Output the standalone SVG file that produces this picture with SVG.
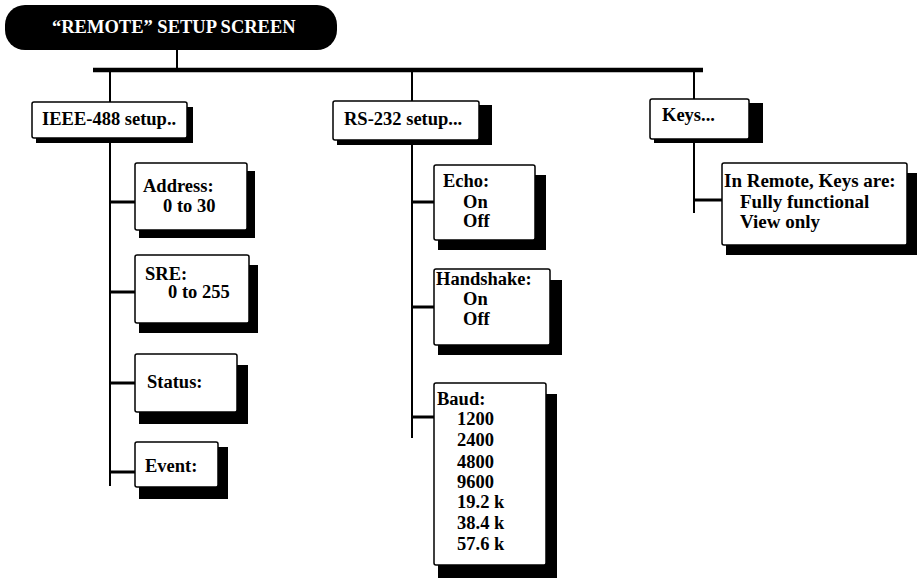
<svg xmlns="http://www.w3.org/2000/svg" width="918" height="581" viewBox="0 0 918 581">
<style>
  .t { font-family: "Liberation Serif", "Times New Roman", serif; font-weight: bold; font-size: 18.5px; fill: #000; }
  .title { font-family: "Liberation Serif", "Times New Roman", serif; font-weight: bold; font-size: 18.5px; fill: #fff; }
  .box { fill: #fff; stroke: #000; stroke-width: 1.5; }
  .sh { fill: #000; }
  .ln { stroke: #000; stroke-width: 2; fill: none; }
  .br { stroke: #000; stroke-width: 3; fill: none; }
  .bar { stroke: #000; stroke-width: 4.5; fill: none; }
</style>
<rect width="918" height="581" fill="#fff"/>

<g id="connectors">
  <line class="ln" x1="177" y1="50" x2="177" y2="70"/>
  <line class="bar" x1="93" y1="70" x2="703" y2="70"/>
  <line class="ln" x1="110" y1="70" x2="110" y2="102"/>
  <line class="ln" x1="412" y1="70" x2="412" y2="101"/>
  <line class="ln" x1="694" y1="70" x2="694" y2="99"/>
  <line class="ln" x1="110" y1="138" x2="110" y2="486"/>
  <line class="br" x1="110" y1="202" x2="135" y2="202"/>
  <line class="br" x1="110" y1="292" x2="135" y2="292"/>
  <line class="br" x1="110" y1="383" x2="135" y2="383"/>
  <line class="br" x1="110" y1="472" x2="135" y2="472"/>
  <line class="ln" x1="412" y1="140" x2="412" y2="438"/>
  <line class="br" x1="412" y1="202" x2="434" y2="202"/>
  <line class="br" x1="412" y1="307" x2="434" y2="307"/>
  <line class="br" x1="412" y1="417" x2="434" y2="417"/>
  <line class="ln" x1="694" y1="139" x2="694" y2="213"/>
  <line class="br" x1="694" y1="200" x2="722" y2="200"/>
</g>

<g id="title">
  <rect x="5" y="5" width="332" height="45" rx="20" fill="#000"/>
  <text class="title" x="52" y="33">“REMOTE” SETUP SCREEN</text>
</g>

<g id="ieee">
  <rect class="sh" x="36" y="107" width="157" height="36"/>
  <rect class="box" x="32" y="102" width="155" height="36" rx="2"/>
  <text class="t" x="42" y="125">IEEE-488 setup..</text>
</g>

<g id="address">
  <rect class="sh" x="139" y="171" width="116" height="67"/>
  <rect class="box" x="135" y="163" width="112" height="67" rx="2"/>
  <text class="t" x="143" y="192">Address:</text>
  <text class="t" x="163" y="212">0 to 30</text>
</g>

<g id="sre">
  <rect class="sh" x="139" y="265" width="119" height="68"/>
  <rect class="box" x="135" y="255" width="114" height="68" rx="2"/>
  <text class="t" x="145" y="280">SRE:</text>
  <text class="t" x="168" y="298">0 to 255</text>
</g>

<g id="status">
  <rect class="sh" x="139" y="365" width="109" height="59"/>
  <rect class="box" x="135" y="354" width="102" height="58" rx="2"/>
  <text class="t" x="147" y="388">Status:</text>
</g>

<g id="event">
  <rect class="sh" x="139" y="447" width="89" height="52"/>
  <rect class="box" x="135" y="442" width="83" height="45" rx="2"/>
  <text class="t" x="145" y="472">Event:</text>
</g>

<g id="rs232">
  <rect class="sh" x="337" y="105" width="155" height="40"/>
  <rect class="box" x="333" y="101" width="146" height="39" rx="2"/>
  <text class="t" x="344" y="125">RS-232 setup...</text>
</g>

<g id="echo">
  <rect class="sh" x="438" y="175" width="108" height="75"/>
  <rect class="box" x="434" y="165" width="101" height="75" rx="2"/>
  <text class="t" x="443" y="187">Echo:</text>
  <text class="t" x="463" y="208">On</text>
  <text class="t" x="463" y="227">Off</text>
</g>

<g id="handshake">
  <rect class="sh" x="438" y="280" width="124" height="75"/>
  <rect class="box" x="434" y="269" width="116" height="76" rx="2"/>
  <text class="t" x="436" y="285">Handshake:</text>
  <text class="t" x="463" y="305">On</text>
  <text class="t" x="463" y="325">Off</text>
</g>

<g id="baud">
  <rect class="sh" x="438" y="394" width="119" height="184"/>
  <rect class="box" x="434" y="383" width="112" height="182" rx="2"/>
  <text class="t" x="437" y="405">Baud:</text>
  <text class="t" x="457" y="425">1200</text>
  <text class="t" x="457" y="446">2400</text>
  <text class="t" x="457" y="468">4800</text>
  <text class="t" x="457" y="488">9600</text>
  <text class="t" x="457" y="508">19.2 k</text>
  <text class="t" x="457" y="529">38.4 k</text>
  <text class="t" x="457" y="550">57.6 k</text>
</g>

<g id="keys">
  <rect class="sh" x="654" y="103" width="109" height="40"/>
  <rect class="box" x="650" y="99" width="99" height="40" rx="2"/>
  <text class="t" x="662" y="121">Keys...</text>
</g>

<g id="keysmode">
  <rect class="sh" x="726" y="173" width="191" height="82"/>
  <rect class="box" x="722" y="163" width="185" height="82" rx="2"/>
  <text class="t" x="724" y="187" style="font-size:19px">In Remote, Keys are:</text>
  <text class="t" x="740" y="208" style="font-size:19px">Fully functional</text>
  <text class="t" x="740" y="228" style="font-size:19px">View only</text>
</g>
</svg>
